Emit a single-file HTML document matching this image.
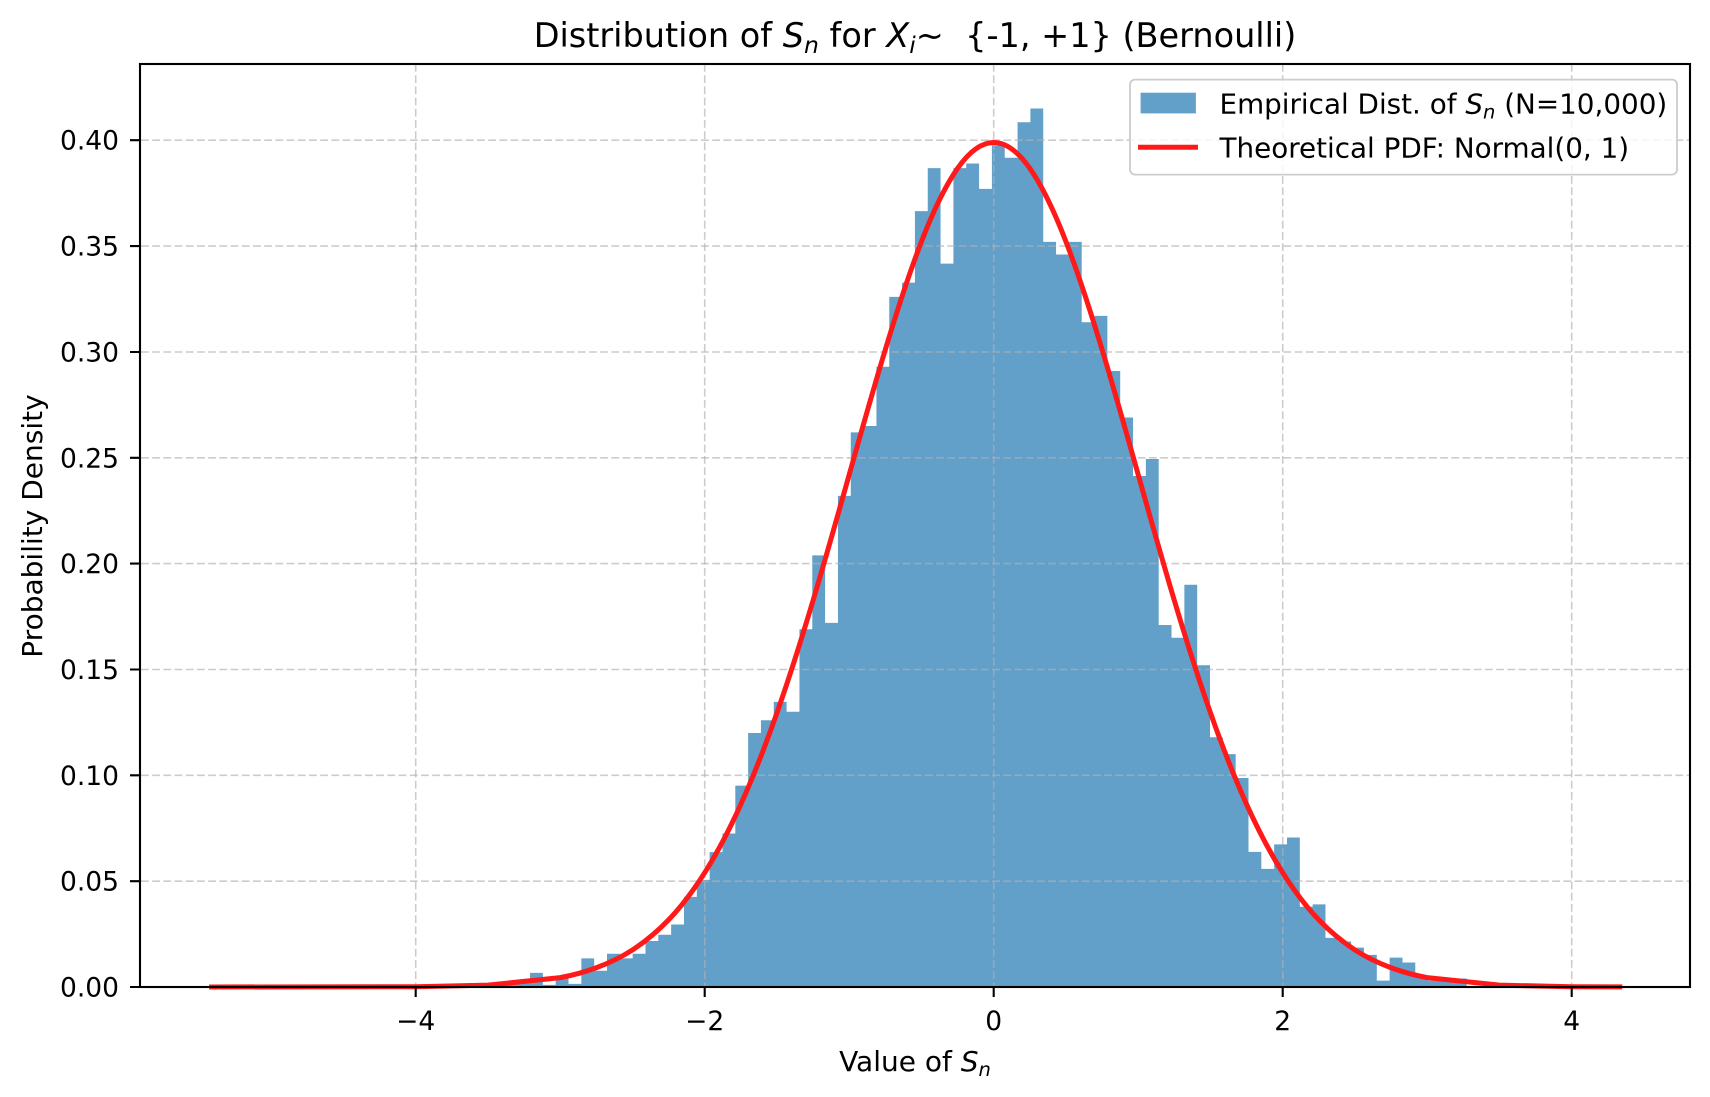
<!DOCTYPE html>
<html><head><meta charset="utf-8"><style>
html,body{margin:0;padding:0;background:#fff}
svg{display:block}
text{font-family:"DejaVu Sans","Liberation Sans",sans-serif;fill:#000}
</style></head><body>
<svg width="1710" height="1097" viewBox="0 0 1710 1097" xmlns="http://www.w3.org/2000/svg">
<rect width="1710" height="1097" fill="#fff"/>
<g transform="translate(991.9,987) scale(12.83,-2117)">
<path fill="#62a0ca" d="M-38,0 V0.002 H-37 V0.0035 H-36 V0.0067 H-35 V0.001 H-34 V0.004 H-33 V0.0015 H-32 V0.0135 H-31 V0.0077 H-30 V0.0157 H-29 V0.0135 H-28 V0.0157 H-27 V0.0217 H-26 V0.0247 H-25 V0.0295 H-24 V0.0426 H-23 V0.0506 H-22 V0.0637 H-21 V0.0725 H-20 V0.0951 H-19 V0.120 H-18 V0.126 H-17 V0.1347 H-16 V0.130 H-15 V0.169 H-14 V0.2039 H-13 V0.172 H-12 V0.232 H-11 V0.262 H-10 V0.265 H-9 V0.293 H-8 V0.326 H-7 V0.3327 H-6 V0.3665 H-5 V0.3868 H-4 V0.3417 H-3 V0.3868 H-2 V0.389 H-1 V0.377 H0 V0.3976 H1 V0.3917 H2 V0.4085 H3 V0.415 H4 V0.352 H5 V0.346 H6 V0.352 H7 V0.314 H8 V0.317 H9 V0.291 H10 V0.269 H11 V0.2414 H12 V0.2494 H13 V0.171 H14 V0.165 H15 V0.190 H16 V0.152 H17 V0.118 H18 V0.110 H19 V0.0987 H20 V0.0638 H21 V0.0558 H22 V0.0674 H23 V0.0706 H24 V0.0379 H25 V0.039 H26 V0.0232 H27 V0.0215 H28 V0.0186 H29 V0.0152 H30 V0.003 H31 V0.0139 H32 V0.0116 H33 V0.0047 H34 V0.003 H35 V0.003 H36 V0.004 H37 V0 Z"/>
</g>
<g stroke="#b0b0b0" stroke-opacity="0.65" stroke-width="1.6" stroke-dasharray="7.8,3.4" fill="none">
<path d="M415.7,64V987M704.7,64V987M993.7,64V987M1282.7,64V987M1571.7,64V987"/>
<path d="M141,987H1690M141,881.2H1690M141,775.3H1690M141,669.5H1690M141,563.6H1690M141,457.8H1690M141,352H1690M141,246.1H1690M141,140.2H1690"/>
</g>
<g transform="translate(993.7,987) scale(144.5,-2117)">
<path fill="none" stroke="rgb(255,25,25)" stroke-width="5" vector-effect="non-scaling-stroke" stroke-linejoin="round" d="M-5.43,0 L-4,.000134 L-3.5,.00087 L-3,.00443
C-2.9167,.0055 -2.8333,.0070 -2.75,.0091
C-2.6667,.0112 -2.5833,.0138 -2.5,.0175
C-2.4167,.0212 -2.3333,.0258 -2.25,.0317
C-2.1667,.0376 -2.0833,.0450 -2,.0540
C-1.9167,.0630 -1.8333,.0737 -1.75,.0863
C-1.6667,.0989 -1.5833,.1133 -1.5,.1295
C-1.4167,.1457 -1.3333,.1636 -1.25,.1826
C-1.1667,.2016 -1.0833,.2218 -1,.2420
C-.9167,.2622 -.8333,.2823 -.75,.3011
C-.6667,.3199 -.5833,.3374 -.5,.3521
C-.4167,.3668 -.3333,.3786 -.25,.3867
C-.1667,.3948 -.0833,.3989 0,.3989
C.0833,.3989 .1667,.3948 .25,.3867
C.3333,.3786 .4167,.3668 .5,.3521
C.5833,.3374 .6667,.3199 .75,.3011
C.8333,.2823 .9167,.2622 1,.2420
C1.0833,.2218 1.1667,.2016 1.25,.1826
C1.3333,.1636 1.4167,.1457 1.5,.1295
C1.5833,.1133 1.6667,.0989 1.75,.0863
C1.8333,.0737 1.9167,.0630 2,.0540
C2.0833,.0450 2.1667,.0376 2.25,.0317
C2.3333,.0258 2.4167,.0212 2.5,.0175
C2.5833,.0138 2.6667,.0112 2.75,.0091
C2.8333,.0070 2.9167,.0055 3,.00443
L3.5,.00087 L4,.000134 L4.35,.00003"/>
</g>
<rect x="140" y="64" width="1550" height="923" fill="none" stroke="#000" stroke-width="2.1"/>
<g stroke="#000" stroke-width="2.1">
<path d="M415.7,987v10M704.7,987v10M993.7,987v10M1282.7,987v10M1571.7,987v10"/>
<path d="M140,987h-10M140,881.2h-10M140,775.3h-10M140,669.5h-10M140,563.6h-10M140,457.8h-10M140,352h-10M140,246.1h-10M140,140.2h-10"/>
</g>
<g font-size="26.5" text-anchor="middle">
<text x="415.7" y="1030">−4</text>
<text x="704.7" y="1030">−2</text>
<text x="993.7" y="1030">0</text>
<text x="1282.7" y="1030">2</text>
<text x="1571.7" y="1030">4</text>
</g>
<g font-size="26.5" text-anchor="end">
<text x="119" y="996.5">0.00</text>
<text x="119" y="890.7">0.05</text>
<text x="119" y="784.8">0.10</text>
<text x="119" y="679">0.15</text>
<text x="119" y="573.1">0.20</text>
<text x="119" y="467.3">0.25</text>
<text x="119" y="361.5">0.30</text>
<text x="119" y="255.6">0.35</text>
<text x="119" y="149.7">0.40</text>
</g>
<text x="915" y="1071" font-size="28" text-anchor="middle">Value of <tspan font-style="italic">S</tspan><tspan font-style="italic" font-size="19.5" dy="5">n</tspan></text>
<text transform="translate(42,526) rotate(-90)" font-size="28" text-anchor="middle">Probability Density</text>
<text x="915" y="47" font-size="33.5" text-anchor="middle">Distribution of <tspan font-style="italic">S</tspan><tspan font-style="italic" font-size="23.5" dy="6">n</tspan><tspan dy="-6"> for </tspan><tspan font-style="italic">X</tspan><tspan font-style="italic" font-size="23.5" dy="6">i</tspan><tspan dy="-6" xml:space="preserve">∼  {-1, +1} (Bernoulli)</tspan></text>
<rect x="1130" y="79.6" width="547" height="95" rx="5" fill="#fff" fill-opacity="0.8" stroke="#cccccc" stroke-width="1.8"/>
<rect x="1140.6" y="92.7" width="55.3" height="20.7" fill="#62a0ca"/>
<line x1="1138" y1="147.2" x2="1198" y2="147.2" stroke="rgb(255,25,25)" stroke-width="5"/>
<text x="1219.5" y="113.6" font-size="27.8">Empirical Dist. of <tspan font-style="italic">S</tspan><tspan font-style="italic" font-size="19.5" dy="5">n</tspan><tspan dy="-5"> (N=10,000)</tspan></text>
<text x="1219.5" y="157.3" font-size="27.8">Theoretical PDF: Normal(0, 1)</text>
</svg>
</body></html>
